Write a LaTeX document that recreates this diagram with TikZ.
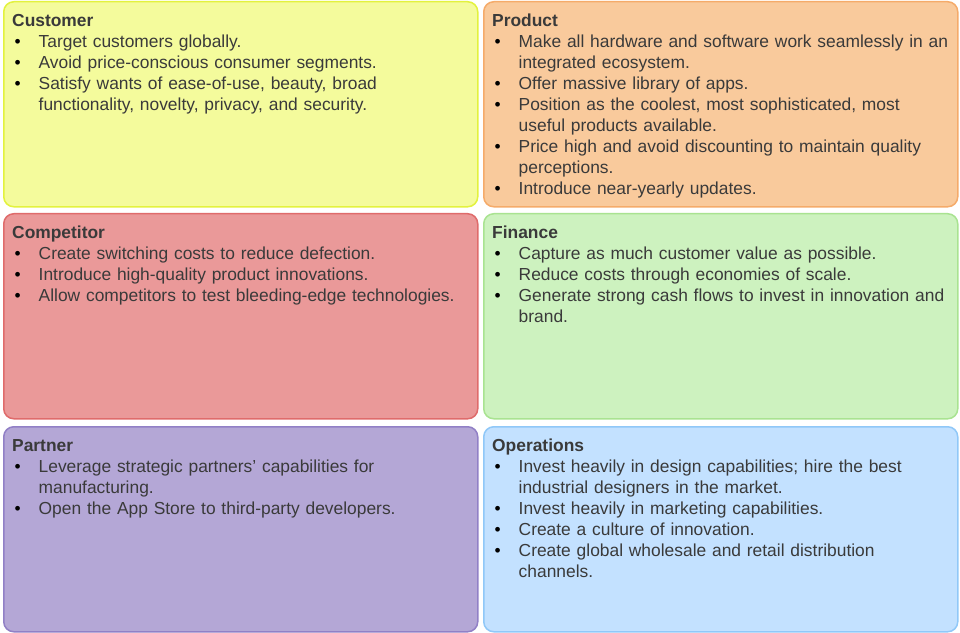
\documentclass[tikz,border=0pt]{standalone}
\usepackage{fontspec}
\setmainfont{Liberation Sans}
\definecolor{txt}{HTML}{3A3A3A}
\definecolor{ylwfill}{HTML}{F4FB9C}\definecolor{ylwline}{HTML}{E3F23E}
\definecolor{orgfill}{HTML}{F9CA9C}\definecolor{orgline}{HTML}{F5AB6A}
\definecolor{redfill}{HTML}{EA9999}\definecolor{redline}{HTML}{DF6B6B}
\definecolor{grnfill}{HTML}{CDF2BF}\definecolor{grnline}{HTML}{A9E391}
\definecolor{purfill}{HTML}{B4A7D6}\definecolor{purline}{HTML}{9180C6}
\definecolor{blufill}{HTML}{C3E1FF}\definecolor{bluline}{HTML}{90C8F8}
% one bulleted item with a hanging indent
\newcommand\itm[1]{\par\hangindent=26.5bp\hangafter=1\noindent
  \makebox[26.5bp][l]{\hspace{2.5bp}\textcolor{black}{\textbullet}}#1}
\newcommand\cardtitle[1]{\noindent\strut\textbf{#1}}
\begin{document}
\begin{tikzpicture}[x=1bp,y=-1bp,
  card/.style={draw, line width=1.5bp, rounded corners=10bp,
    minimum width=474bp, minimum height=205bp, anchor=north west, inner sep=0pt},
  body/.style={anchor=north west, inner sep=0pt, text width=464bp,
    text=txt, font=\fontsize{17.4bp}{21bp}\selectfont}]
\useasboundingbox (0,0) rectangle (960,633);

\node[card, fill=ylwfill, draw=ylwline] (customer) at (3,1) {};
\node[card, fill=orgfill, draw=orgline] (product) at (483,1) {};
\node[card, fill=redfill, draw=redline] (competitor) at (3,213) {};
\node[card, fill=grnfill, draw=grnline] (finance) at (483,213) {};
\node[card, fill=purfill, draw=purline] (partner) at (3,426) {};
\node[card, fill=blufill, draw=bluline] (operations) at (483,426) {};

\node[body] (customertext) at ([xshift=9bp,yshift=-10.3bp]customer.north west) {%
  \raggedright
  \cardtitle{Customer}
  \itm{Target customers globally.}
  \itm{Avoid price-conscious consumer segments.}
  \itm{Satisfy wants of ease-of-use, beauty, broad\newline functionality, novelty, privacy, and security.}\par};

\node[body] (producttext) at ([xshift=9bp,yshift=-10.3bp]product.north west) {%
  \raggedright
  \cardtitle{Product}
  \itm{Make all hardware and software work seamlessly in an\newline integrated ecosystem.}
  \itm{Offer massive library of apps.}
  \itm{Position as the coolest, most sophisticated, most\newline useful products available.}
  \itm{Price high and avoid discounting to maintain quality\newline perceptions.}
  \itm{Introduce near-yearly updates.}\par};

\node[body] (competitortext) at ([xshift=9bp,yshift=-10.3bp]competitor.north west) {%
  \raggedright
  \cardtitle{Competitor}
  \itm{Create switching costs to reduce defection.}
  \itm{Introduce high-quality product innovations.}
  \itm{Allow competitors to test bleeding-edge technologies.}\par};

\node[body] (financetext) at ([xshift=9bp,yshift=-10.3bp]finance.north west) {%
  \raggedright
  \cardtitle{Finance}
  \itm{Capture as much customer value as possible.}
  \itm{Reduce costs through economies of scale.}
  \itm{Generate strong cash flows to invest in innovation and\newline brand.}\par};

\node[body] (partnertext) at ([xshift=9bp,yshift=-10.3bp]partner.north west) {%
  \raggedright
  \cardtitle{Partner}
  \itm{Leverage strategic partners' capabilities for\newline manufacturing.}
  \itm{Open the App Store to third-party developers.}\par};

\node[body] (operationstext) at ([xshift=9bp,yshift=-10.3bp]operations.north west) {%
  \raggedright
  \cardtitle{Operations}
  \itm{Invest heavily in design capabilities; hire the best\newline industrial designers in the market.}
  \itm{Invest heavily in marketing capabilities.}
  \itm{Create a culture of innovation.}
  \itm{Create global wholesale and retail distribution\newline channels.}\par};
\end{tikzpicture}
\end{document}
